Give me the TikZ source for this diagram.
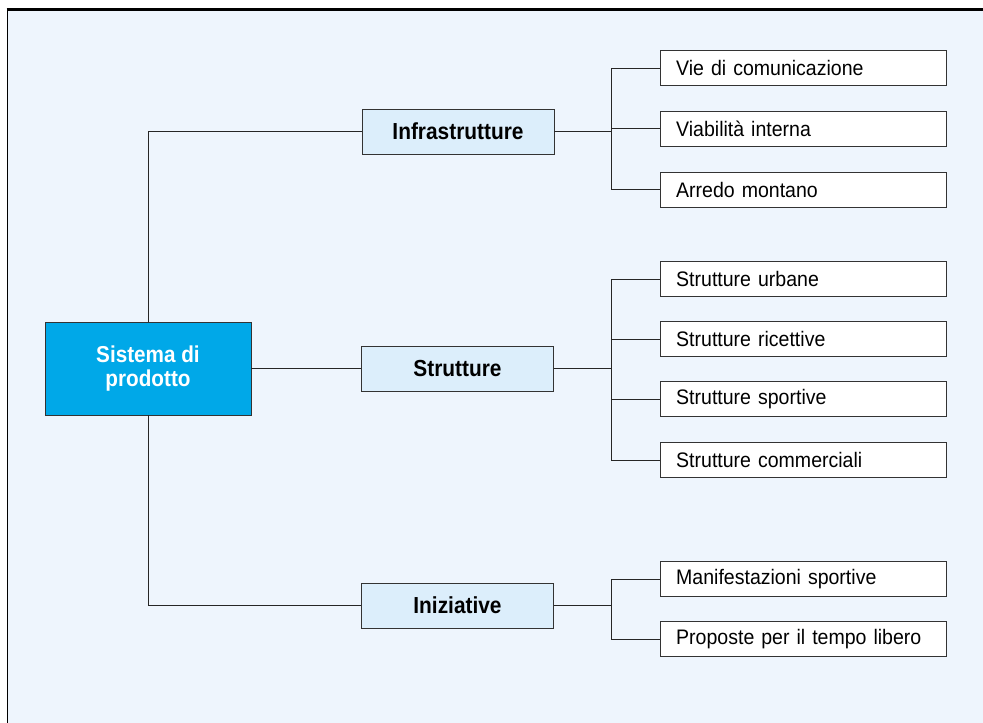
\documentclass[tikz,border=0pt]{standalone}
\usepackage{fontspec}
\setmainfont{Liberation Sans}[FakeStretch=0.93]
\newfontfamily\headfont{Liberation Sans}[FakeStretch=0.9]
\definecolor{panelbg}{RGB}{238,245,253}
\definecolor{rootfill}{RGB}{0,168,232}
\definecolor{groupfill}{RGB}{220,238,251}
\begin{document}
\begin{tikzpicture}[x=1pt,y=-1pt,
    rootbox/.style={draw=black!80,fill=rootfill,text=white,
      font=\headfont\fontsize{23}{23.5}\selectfont\bfseries,align=center,
      minimum width=206pt,minimum height=93pt,inner sep=0pt},
    groupbox/.style={draw=black!80,fill=groupfill,
      font=\headfont\fontsize{23.2}{24}\selectfont\bfseries,
      minimum width=192pt,minimum height=45pt,inner sep=0pt},
    itembox/.style={draw=black!80,fill=white,anchor=west,
      font=\fontsize{21}{24}\selectfont,align=left,
      text width=254pt,inner xsep=16pt,inner ysep=0pt,minimum height=35pt},
    link/.style={draw=black!85,line width=1pt}]
    \useasboundingbox (0,0) rectangle (983,723);
    % panel
    \fill[panelbg] (7,9) rectangle (983,723);
    \draw[line width=1.7pt] (7.5,9.5) -- (7.5,723);
    \draw[line width=2.7pt] (6.5,9.5) -- (983,9.5);
    % boxes
    \node[rootbox] (root) at (148,368.5) {Sistema di\\prodotto};
    \node[groupbox] (infra) at (458,131.5) {Infrastrutture};
    \node[groupbox] (strut) at (457.5,368.5) {Strutture};
    \node[groupbox] (iniz) at (457.5,605.5) {Iniziative};
    \node[itembox] (vie) at (660,68) {Vie di comunicazione};
    \node[itembox] (viab) at (660,128.5) {Viabilità interna};
    \node[itembox] (arredo) at (660,189.5) {Arredo montano};
    \node[itembox] (urb) at (660,279) {Strutture urbane};
    \node[itembox] (ric) at (660,339) {Strutture ricettive};
    \node[itembox] (sport) at (660,399) {Strutture sportive};
    \node[itembox] (comm) at (660,460) {Strutture commerciali};
    \node[itembox] (manif) at (660,579) {Manifestazioni sportive};
    \node[itembox] (prop) at (660,639) {Proposte per il tempo libero};
    % connectors
    \coordinate (jinfra) at (611,131.5);
    \coordinate (jstrut) at (611,368.5);
    \coordinate (jiniz) at (611,605.5);
    \draw[link] (root.north) |- (infra.west);
    \draw[link] (root.east) -- (strut.west);
    \draw[link] (root.south) |- (iniz.west);
    \draw[link] (infra.east) -- (jinfra);
    \draw[link] (strut.east) -- (jstrut);
    \draw[link] (iniz.east) -- (jiniz);
    \foreach \n in {vie,viab,arredo} \draw[link] (jinfra) |- (\n.west);
    \foreach \n in {urb,ric,sport,comm} \draw[link] (jstrut) |- (\n.west);
    \foreach \n in {manif,prop} \draw[link] (jiniz) |- (\n.west);
\end{tikzpicture}
\end{document}
